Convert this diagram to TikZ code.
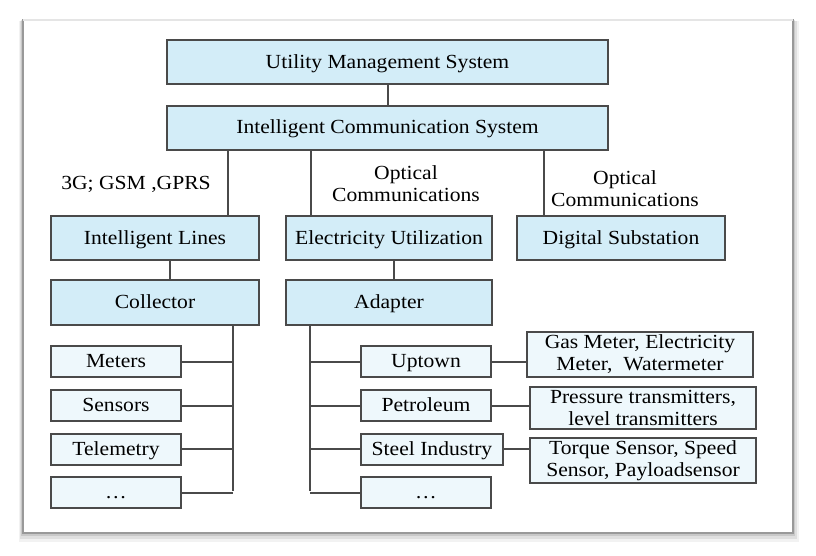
\documentclass[tikz,border=0pt]{standalone}
\usepackage{fontspec}
\setmainfont{Liberation Serif}[FakeStretch=1.08]
\definecolor{mainfill}{HTML}{D3EDF8}
\definecolor{subfill}{HTML}{EEF8FC}
\definecolor{edgegray}{HTML}{4A4A4A}

\begin{document}
\begin{tikzpicture}[x=1pt, y=-1pt,
  mainbox/.style={draw=edgegray, line width=2pt, fill=mainfill, inner sep=0pt, minimum height=44pt, text height=15pt, text depth=3pt, font=\fontsize{20}{22}\selectfont},
  subbox/.style={draw=edgegray, line width=2pt, fill=subfill, inner sep=0pt, minimum width=130pt, minimum height=31pt, text height=15pt, text depth=3pt, font=\fontsize{20}{22}\selectfont},
  pairbox/.style={draw=edgegray, line width=2pt, fill=subfill, inner sep=0pt, minimum width=226pt, align=center, font=\fontsize{20}{22}\selectfont},
  tagtext/.style={align=center, inner sep=0pt, font=\fontsize{20}{22}\selectfont},
  link/.style={draw=edgegray, line width=2pt}]
\useasboundingbox (0,0) rectangle (816,556);
\fill[black, opacity=.05] (19,21) rectangle (799,542);
\fill[black, opacity=.08] (20,21) rectangle (797,539);
\fill[black, opacity=.10] (21,20) rectangle (795,536);
\draw[black!40, line width=1.4pt, fill=white] (23,20) rectangle (793,533);
\draw[black!10, line width=1.4pt] (23,20) -- (793,20);
\node[mainbox, minimum width=441pt] (ums) at (387.5,62.5) {Utility Management System};
\node[mainbox, minimum width=441pt] (ics) at (387.5,128) {Intelligent Communication System};
\node[mainbox, minimum width=208pt] (lines) at (155,238) {Intelligent Lines};
\node[mainbox, minimum width=206pt] (use) at (389,238) {Electricity Utilization};
\node[mainbox, minimum width=208pt] (sub) at (621,238) {Digital Substation};
\node[mainbox, minimum width=208pt, minimum height=45pt] (coll) at (155,302.5) {Collector};
\node[mainbox, minimum width=206pt, minimum height=45pt] (adap) at (389,302.5) {Adapter};
\node[subbox] (meters) at (116,361.5) {Meters};
\node[subbox] (sensors) at (116,405.5) {Sensors};
\node[subbox] (telem) at (116,449) {Telemetry};
\node[subbox] (cmore) at (116,492.5) {\dots};
\node[subbox] (uptown) at (426,361.5) {Uptown};
\node[subbox] (petro) at (426,405.5) {Petroleum};
\node[subbox, minimum width=142pt] (steel) at (432,449) {Steel Industry};
\node[subbox] (amore) at (426,492.5) {\dots};
\node[pairbox, minimum height=45pt] (gas) at (640,354.5) {Gas Meter, Electricity\\Meter,\ \ Watermeter};
\node[pairbox, minimum height=42pt] (press) at (643,408) {Pressure transmitters,\\level transmitters};
\node[pairbox, minimum height=45pt] (torque) at (643,460.5) {Torque Sensor, Speed\\Sensor, Payloadsensor};
\node[tagtext] (gsm) at (136,184) {3G; GSM ,GPRS};
\node[tagtext] (opt1) at (406,184) {Optical\\Communications};
\node[tagtext] (opt2) at (625,188.5) {Optical\\Communications};
\coordinate (t1) at (228,0);
\coordinate (t2) at (311,0);
\coordinate (t3) at (544,0);
\coordinate (t4) at (170,0);
\coordinate (t5) at (394,0);
\coordinate (cbus) at (233,491);
\coordinate (abus) at (310,491);
\draw[link] (ums) -- (ics);
\draw[link] (ics.south -| t1) -- (lines.north -| t1);
\draw[link] (ics.south -| t2) -- (use.north -| t2);
\draw[link] (ics.south -| t3) -- (sub.north -| t3);
\draw[link] (lines.south -| t4) -- (coll.north -| t4);
\draw[link] (use.south -| t5) -- (adap.north -| t5);
\draw[link] (coll.south -| cbus) -- (cbus);
\draw[link] (meters.east) -- (meters.east -| cbus);
\draw[link] (sensors.east) -- (sensors.east -| cbus);
\draw[link] (telem.east) -- (telem.east -| cbus);
\draw[link] (cmore.east) -- (cmore.east -| cbus);
\draw[link] (adap.south -| abus) -- (abus);
\draw[link] (uptown.west) -- (uptown.west -| abus);
\draw[link] (petro.west) -- (petro.west -| abus);
\draw[link] (steel.west) -- (steel.west -| abus);
\draw[link] (amore.west) -- (amore.west -| abus);
\draw[link] (uptown.east) -- (uptown.east -| gas.west);
\draw[link] (petro.east) -- (petro.east -| press.west);
\draw[link] (steel.east) -- (steel.east -| torque.west);
\end{tikzpicture}
\end{document}
